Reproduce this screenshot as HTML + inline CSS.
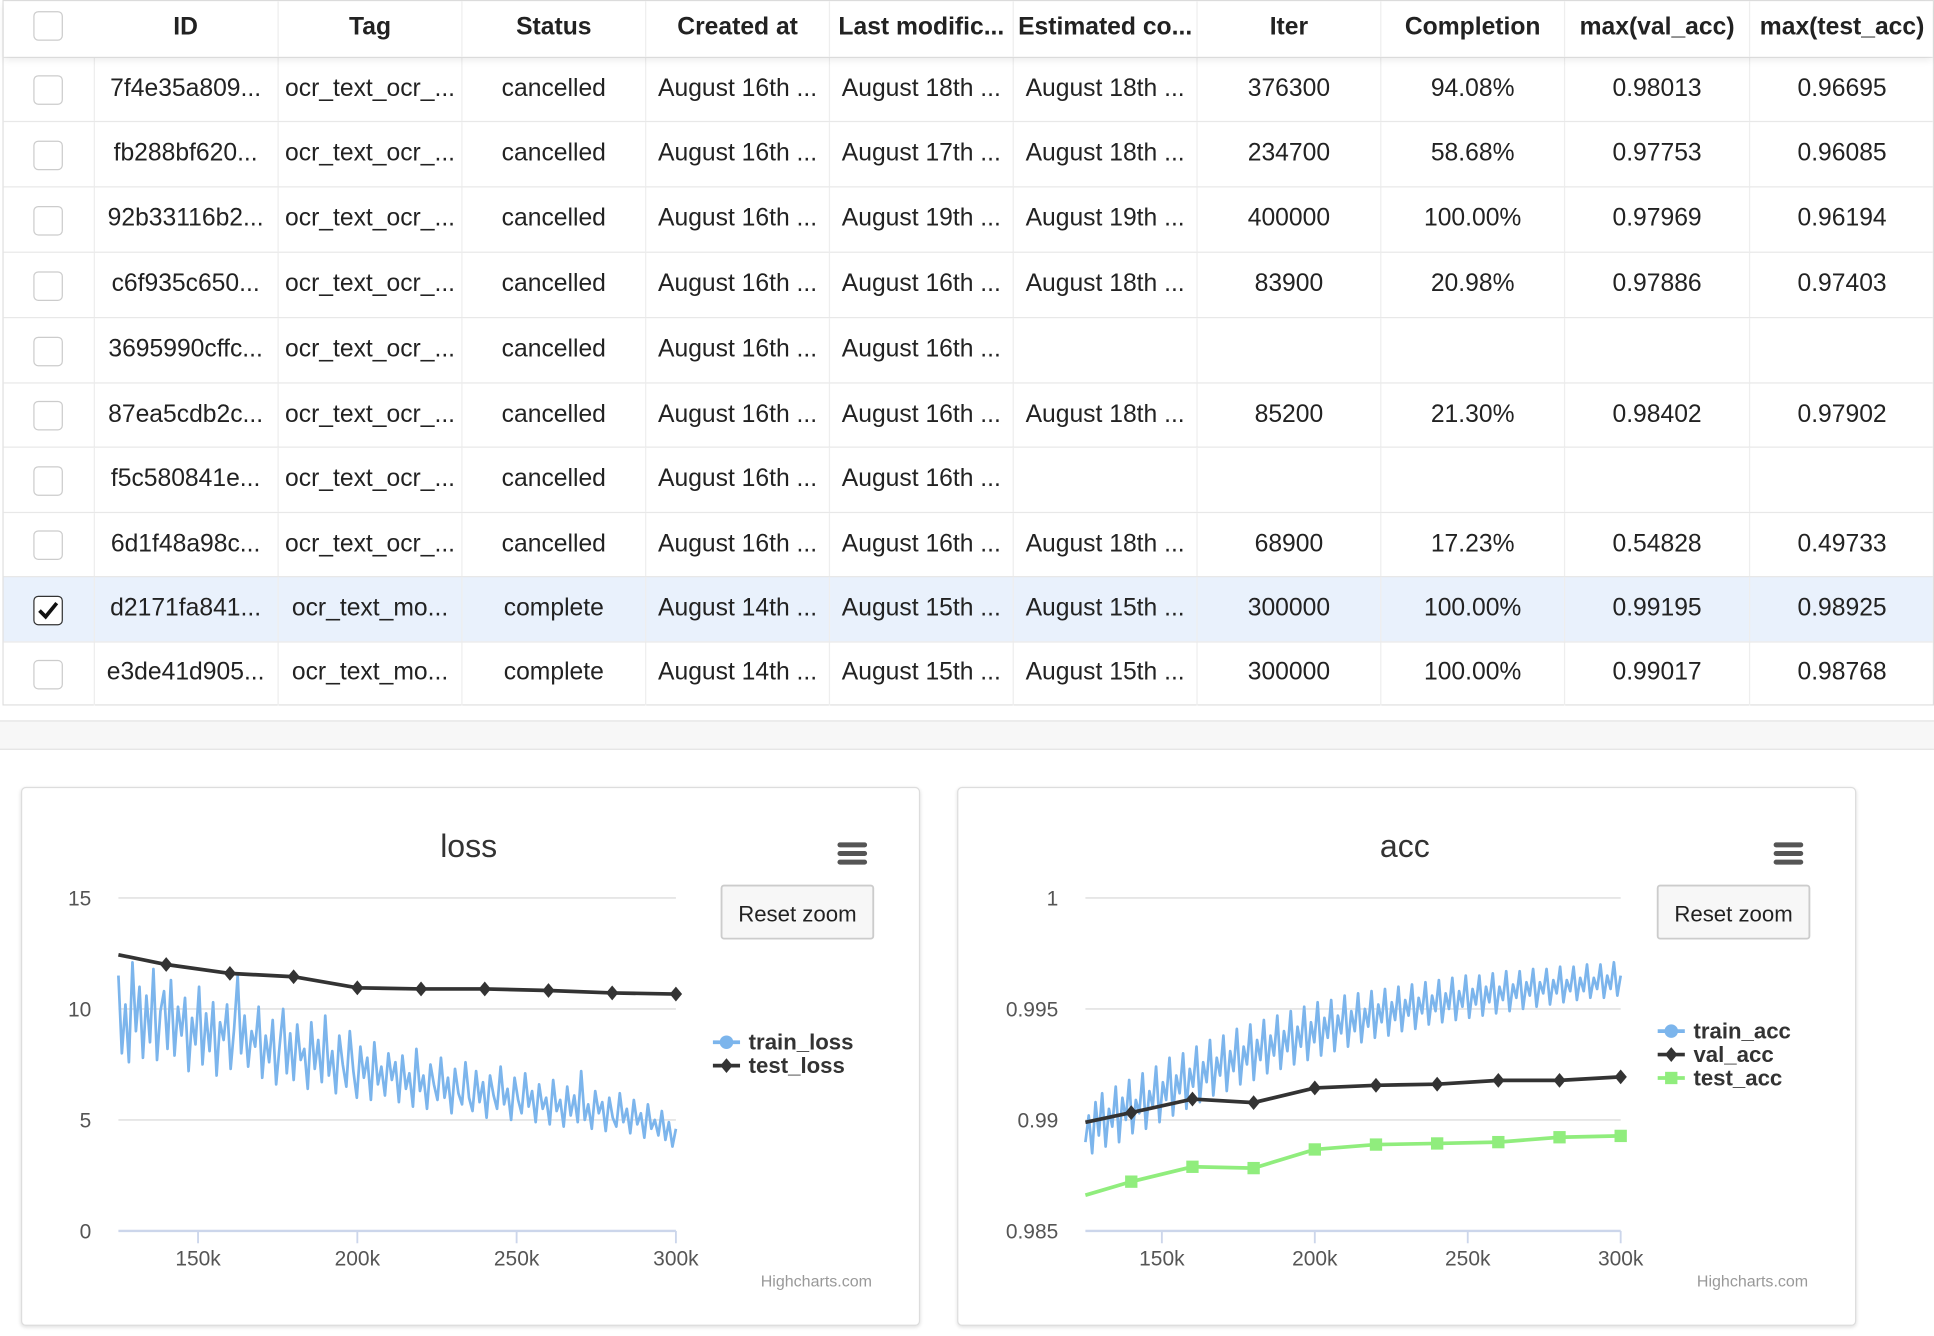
<!DOCTYPE html>
<html><head><meta charset="utf-8">
<style>
html,body{margin:0;padding:0;background:#fff;overflow:hidden}
#wrap{position:absolute;left:0;top:0;width:1568px;height:1083px;transform:scale(1.2334);transform-origin:0 0;font-family:"Liberation Sans",sans-serif;color:#222}
.cell{position:absolute;box-sizing:border-box;text-align:center;font-size:20px;white-space:nowrap;overflow:hidden;border-right:1px solid #eee}
.cb{position:absolute;width:24px;height:24px;border:1.5px solid #ccc;border-radius:4px;box-sizing:border-box;background:#fff}
.panel{position:absolute;border:1.5px solid #ddd;border-radius:4px;background:#fff;box-shadow:0 1px 3px rgba(0,0,0,.12)}
</style></head><body>
<div id="wrap">
<div id="table" style="position:absolute;left:2px;top:0;width:1566px;height:572px;border:1px solid #ddd;box-sizing:border-box"></div>
<div style="position:absolute;left:0;top:584px;width:1568px;height:22px;background:#f7f7f7;border-top:1px solid #e4e4e4;border-bottom:1px solid #e4e4e4"></div>
<div class="panel" style="left:17px;top:638px;width:727px;height:435px"></div>
<div class="panel" style="left:776px;top:638px;width:727px;height:435px"></div>
<svg id="charts" width="1568" height="1083" style="position:absolute;left:0;top:0" font-family="Liberation Sans, sans-serif"></svg>
</div>
<script>
const headers=["ID","Tag","Status","Created at","Last modific...","Estimated co...","Iter","Completion","max(val_acc)","max(test_acc)"];
const rows=[
["7f4e35a809...","ocr_text_ocr_...","cancelled","August 16th ...","August 18th ...","August 18th ...","376300","94.08%","0.98013","0.96695"],
["fb288bf620...","ocr_text_ocr_...","cancelled","August 16th ...","August 17th ...","August 18th ...","234700","58.68%","0.97753","0.96085"],
["92b33116b2...","ocr_text_ocr_...","cancelled","August 16th ...","August 19th ...","August 19th ...","400000","100.00%","0.97969","0.96194"],
["c6f935c650...","ocr_text_ocr_...","cancelled","August 16th ...","August 16th ...","August 18th ...","83900","20.98%","0.97886","0.97403"],
["3695990cffc...","ocr_text_ocr_...","cancelled","August 16th ...","August 16th ...","","","","",""],
["87ea5cdb2c...","ocr_text_ocr_...","cancelled","August 16th ...","August 16th ...","August 18th ...","85200","21.30%","0.98402","0.97902"],
["f5c580841e...","ocr_text_ocr_...","cancelled","August 16th ...","August 16th ...","","","","",""],
["6d1f48a98c...","ocr_text_ocr_...","cancelled","August 16th ...","August 16th ...","August 18th ...","68900","17.23%","0.54828","0.49733"],
["d2171fa841...","ocr_text_mo...","complete","August 14th ...","August 15th ...","August 15th ...","300000","100.00%","0.99195","0.98925"],
["e3de41d905...","ocr_text_mo...","complete","August 14th ...","August 15th ...","August 15th ...","300000","100.00%","0.99017","0.98768"]];
const tbl=document.getElementById('table');
const colX=[0,73,223,372,521,670,819,968,1117,1266,1416,1566];
const rowY=[0,45,97,150,203,256,309,361,414,466,519,570];
function mk(tag,parent,css){const e=document.createElement(tag);e.style.cssText=css;parent.appendChild(e);return e;}
const hdr=mk('div',tbl,'position:absolute;left:0;top:0;width:1564px;height:45px;box-shadow:0 3px 6px rgba(0,0,0,.08);background:#fff;z-index:2');


const hcb=mk('div',hdr,'left:24px;top:8px');hcb.className='cb';


headers.forEach((h,i)=>{const c=mk('div',hdr,`left:${colX[i+1]}px;top:0;width:${colX[i+2]-colX[i+1]}px;height:45px;line-height:42px;font-weight:bold`);c.className='cell';c.textContent=h;

});
rows.forEach((r,ri)=>{const y=rowY[ri+1],h=rowY[ri+2]-y;
const row=mk('div',tbl,`position:absolute;left:0;top:${y}px;width:1564px;height:${h}px;border-top:1px solid #e8e8e8;box-sizing:border-box;background:${ri==8?'#e9f1fc':'#fff'}`);


const cb=mk('div',row,`left:24px;top:${(h-24)/2}px`);cb.className='cb';


if(ri==8){cb.style.borderColor='#333';cb.innerHTML='<svg width="21" height="21" style="position:absolute;left:0;top:0"><path d="M4 11 L9 16 L18 5" stroke="#111" stroke-width="3" fill="none"/></svg>';}
mk('div',row,`position:absolute;left:73px;top:0;width:1px;height:${h}px;background:#eee`);
r.forEach((v,i)=>{const c=mk('div',row,`left:${colX[i+1]}px;top:0;width:${colX[i+2]-colX[i+1]}px;height:${h}px;line-height:${h-2}px`);c.className='cell';c.textContent=v;

});});

// ---------- chart data ----------
const testLossX=[125,140,160,180,200,220,240,260,280,300];
const testLossY=[12.44,12.0,11.6,11.45,10.95,10.9,10.9,10.83,10.72,10.67];
const trainLoss=[11.5,8.0,10.2,7.6,12.1,9.0,11.0,7.8,10.6,8.5,11.8,7.7,9.9,10.8,8.2,11.3,7.9,10.1,8.8,10.5,
7.2,9.6,8.4,11.0,7.5,9.8,8.1,10.3,7.0,9.4,8.6,10.2,7.3,9.1,11.5,8.0,9.7,7.4,9.0,8.3,
10.1,6.9,8.8,7.6,9.5,6.6,8.4,10.0,7.1,8.9,6.8,9.3,7.7,8.2,6.4,9.4,7.3,8.6,6.7,9.7,
7.0,8.1,6.2,8.8,7.5,6.5,9.0,7.2,6.0,8.3,6.9,7.8,5.9,8.5,6.6,7.4,6.1,8.0,6.8,7.6,
5.8,7.9,6.4,7.1,5.6,8.2,6.3,7.0,5.5,7.5,6.6,5.9,7.8,6.0,6.9,5.3,7.3,6.2,5.7,7.6,
6.0,5.4,7.2,5.8,6.7,5.1,7.0,6.1,5.5,7.4,5.7,6.4,5.0,6.9,5.9,5.3,7.1,5.6,6.3,4.9,
6.6,5.5,6.0,4.8,6.8,5.4,5.9,4.7,6.5,5.2,6.1,4.9,7.2,5.0,5.7,4.6,6.3,5.3,5.8,4.5,
6.0,5.1,4.7,6.2,4.9,5.5,4.4,5.9,4.8,5.3,4.2,5.7,4.6,5.0,4.3,5.4,4.1,4.9,3.8,4.6];
const valAccY=[0.98989,0.99033,0.99094,0.99078,0.99144,0.99156,0.99161,0.99178,0.99178,0.99194];
const testAccY=[0.98661,0.98722,0.98789,0.98783,0.98867,0.98889,0.98894,0.989,0.98922,0.98928];
const trainAcc=[.9890,.9902,.9885,.9908,.9893,.9912,.9888,.9905,.9897,.9915,.9890,.9910,.9900,.9918,.9894,.9909,.9903,.9921,.9896,.9913,
.9906,.9924,.9899,.9917,.9909,.9928,.9902,.9920,.9912,.9930,.9905,.9923,.9915,.9933,.9908,.9926,.9917,.9936,.9911,.9928,
.9920,.9938,.9913,.9931,.9922,.9941,.9916,.9933,.9925,.9943,.9918,.9936,.9927,.9945,.9921,.9938,.9929,.9947,.9923,.9940,
.9931,.9949,.9925,.9942,.9933,.9951,.9927,.9944,.9935,.9953,.9929,.9946,.9937,.9954,.9931,.9947,.9939,.9956,.9933,.9949,
.9940,.9957,.9935,.9950,.9942,.9958,.9937,.9952,.9944,.9959,.9938,.9953,.9945,.9960,.9940,.9954,.9947,.9961,.9941,.9955,
.9948,.9962,.9943,.9956,.9949,.9963,.9944,.9957,.9950,.9964,.9945,.9958,.9951,.9965,.9946,.9959,.9952,.9965,.9947,.9960,
.9953,.9966,.9948,.9960,.9954,.9967,.9949,.9961,.9955,.9967,.9950,.9962,.9956,.9968,.9951,.9962,.9957,.9968,.9952,.9963,
.9957,.9969,.9953,.9963,.9958,.9969,.9954,.9964,.9958,.9970,.9955,.9964,.9959,.9970,.9955,.9965,.9959,.9971,.9956,.9965];
const xTicks=[150,200,250,300];
const xTickLabels=["150k","200k","250k","300k"];
const lossYTicks=[0,5,10,15];
const accYTicks=[0.985,0.99,0.995,1];
const accYLabels=["0.985","0.99","0.995","1"];

const svg=document.getElementById('charts');const NS='http://www.w3.org/2000/svg';
function el(t,a,txt){const e=document.createElementNS(NS,t);for(const k in a)e.setAttribute(k,a[k]);if(txt!=null)e.textContent=txt;svg.appendChild(e);return e;}

function chart(o){
 const X=v=>o.x0+(v-125)/(300-125)*(o.x1-o.x0);
 const Y=v=>o.y0-(v-o.ymin)/(o.ymax-o.ymin)*(o.y0-o.y1);
 o.yTicks.forEach((t,i)=>{const g=el('line',{x1:o.x0,x2:o.x1,y1:Y(t),y2:Y(t),stroke:i==0?'#ccd6eb':'#e6e6e6','stroke-width':i==0?2:1.5});
  
  
  const l=el('text',{x:o.x0-22,y:Y(t)+6,'text-anchor':'end','font-size':17,fill:'#555'},o.yLabels[i]);
  
  });
 xTicks.forEach((t,i)=>{const tk=el('line',{x1:X(t),x2:X(t),y1:Y(o.ymin),y2:Y(o.ymin)+10,stroke:'#ccd6eb','stroke-width':1.5});
  
  
  const l=el('text',{x:X(t),y:Y(o.ymin)+28,'text-anchor':'middle','font-size':17,fill:'#555'},xTickLabels[i]);
  
  });
 const t=el('text',{x:o.cx,y:695,'text-anchor':'middle','font-size':26,fill:'#333'},o.title);
 
 
 const n=o.noisy.length;
 const pts=o.noisy.map((v,i)=>X(125+i*175/(n-1)).toFixed(1)+','+Y(v).toFixed(1)).join(' ');
 const nl=el('polyline',{points:pts,fill:'none',stroke:'#7cb5ec','stroke-width':2.2,'stroke-linejoin':'round'});
 
 
 o.series.forEach(s=>{
  const p=testLossX.map((x,i)=>X(x)+','+Y(s.y[i])).join(' ');
  const ln=el('polyline',{points:p,fill:'none',stroke:s.color,'stroke-width':3});
  
  
  testLossX.forEach((x,i)=>{if(i==0)return;const cx=X(x),cy=Y(s.y[i]);let m;
   if(s.marker=='d')m=el('path',{d:`M${cx} ${cy-6}L${cx+5} ${cy}L${cx} ${cy+6}L${cx-5} ${cy}Z`,fill:s.color});
   else m=el('rect',{x:cx-5,y:cy-5,width:10,height:10,fill:s.color});
   
   });
 });
 o.legend.forEach((g,i)=>{const ly=o.ly+i*19;
  const a=el('line',{x1:o.lx,x2:o.lx+22,y1:ly,y2:ly,stroke:g.color,'stroke-width':3});
  
  
  let m;const cx=o.lx+11;
  if(g.marker=='c')m=el('circle',{cx:cx,cy:ly,r:5.5,fill:g.color});
  else if(g.marker=='d')m=el('path',{d:`M${cx} ${ly-6}L${cx+5} ${ly}L${cx} ${ly+6}L${cx-5} ${ly}Z`,fill:g.color});
  else m=el('rect',{x:cx-5,y:ly-5,width:10,height:10,fill:g.color});
  
  
  const tx=el('text',{x:o.lx+29,y:ly+6,'font-size':18,'font-weight':'bold',fill:'#333'},g.name);
  
  });
 const b=el('rect',{x:o.bx,y:718,width:123,height:43,rx:2,fill:'#f7f7f7',stroke:'#ccc','stroke-width':1.5});
 
 
 const bt=el('text',{x:o.bx+61.5,y:747,'text-anchor':'middle','font-size':18,fill:'#222'},'Reset zoom');
 
 
 [683,690,697].forEach(y=>{const h=el('rect',{x:o.bx+94,y:y,width:24,height:4,rx:2,fill:'#555'});
  
  });
 const c=el('text',{x:o.bx+122,y:1043,'text-anchor':'end','font-size':13,fill:'#999'},'Highcharts.com');
 
 
}
chart({x0:96,x1:548,y0:998,y1:728,ymin:0,ymax:15,yTicks:lossYTicks,yLabels:["0","5","10","15"],title:'loss',cx:380,
 noisy:trainLoss,noisyName:'train-loss',series:[{name:'test-loss',y:testLossY,color:'#333',marker:'d'}],
 legend:[{name:'train_loss',color:'#7cb5ec',marker:'c'},{name:'test_loss',color:'#333',marker:'d'}],lx:578,ly:845,bx:585});
chart({x0:880,x1:1314,y0:998,y1:728,ymin:0.985,ymax:1,yTicks:accYTicks,yLabels:accYLabels,title:'acc',cx:1139,
 noisy:trainAcc,noisyName:'train-acc',series:[{name:'val-acc',y:valAccY,color:'#333',marker:'d'},{name:'test-acc',y:testAccY,color:'#90ed7d',marker:'s'}],
 legend:[{name:'train_acc',color:'#7cb5ec',marker:'c'},{name:'val_acc',color:'#333',marker:'d'},{name:'test_acc',color:'#90ed7d',marker:'s'}],lx:1344,ly:836,bx:1344});
</script>
</body></html>
